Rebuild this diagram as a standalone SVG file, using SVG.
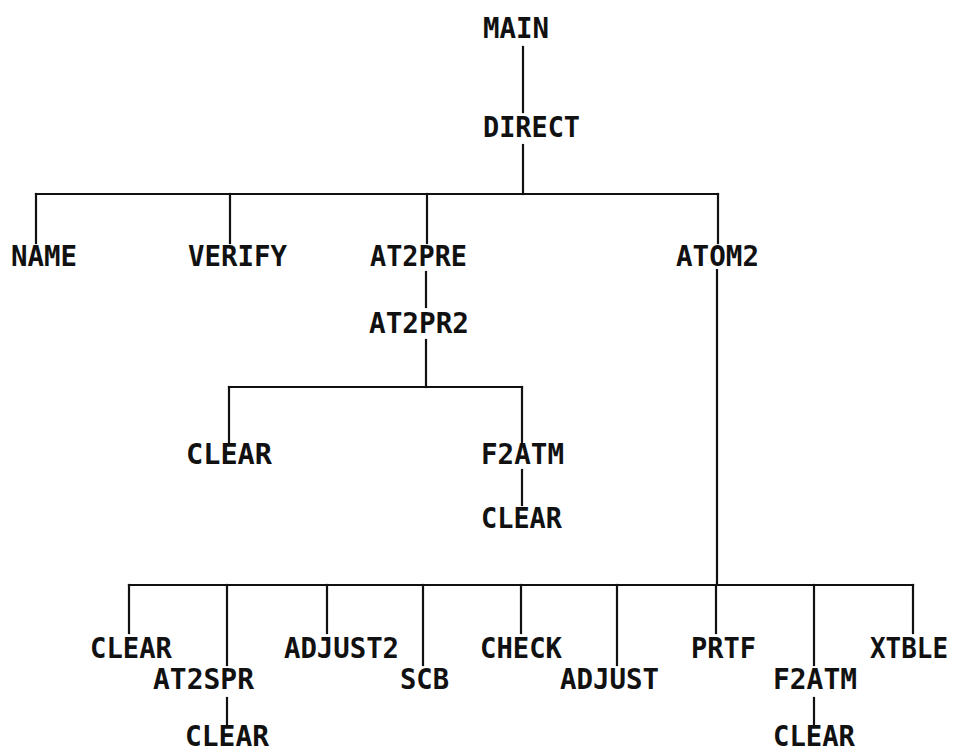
<svg xmlns="http://www.w3.org/2000/svg" width="956" height="754" viewBox="0 0 956 754">
<style>
text{font-family:"DejaVu Sans Mono","Liberation Mono",monospace;font-weight:bold;font-size:29px;fill:#111}
.c line{stroke:#111;stroke-width:2.2;stroke-linecap:square}
</style>
<rect width="956" height="754" fill="#fff"/>
<g class="c" id="connectors">
<line x1="523" y1="47" x2="523" y2="112"/>
<line x1="523" y1="145" x2="523" y2="194"/>
<line x1="36" y1="194" x2="718" y2="194"/>
<line x1="36" y1="194" x2="36" y2="243"/>
<line x1="230" y1="194" x2="230" y2="243"/>
<line x1="427" y1="194" x2="427" y2="243"/>
<line x1="718" y1="194" x2="718" y2="243"/>
<line x1="426" y1="272" x2="426" y2="307"/>
<line x1="426" y1="340" x2="426" y2="387"/>
<line x1="229" y1="387" x2="522" y2="387"/>
<line x1="229" y1="387" x2="229" y2="442"/>
<line x1="522" y1="387" x2="522" y2="442"/>
<line x1="522" y1="470" x2="522" y2="505"/>
<line x1="717" y1="270" x2="717" y2="585"/>
<line x1="129" y1="585" x2="913" y2="585"/>
<line x1="129" y1="585" x2="129" y2="633"/>
<line x1="227" y1="585" x2="227" y2="665"/>
<line x1="327" y1="585" x2="327" y2="633"/>
<line x1="423" y1="585" x2="423" y2="665"/>
<line x1="521" y1="585" x2="521" y2="633"/>
<line x1="617" y1="585" x2="617" y2="665"/>
<line x1="716" y1="585" x2="716" y2="633"/>
<line x1="814" y1="585" x2="814" y2="665"/>
<line x1="913" y1="585" x2="913" y2="633"/>
<line x1="227" y1="698" x2="227" y2="724"/>
<line x1="814" y1="698" x2="814" y2="724"/>
</g>
<g id="main"><text x="483" y="38" textLength="66" lengthAdjust="spacingAndGlyphs">MAIN</text></g>
<g id="direct"><text x="483" y="137" textLength="97" lengthAdjust="spacingAndGlyphs">DIRECT</text></g>
<g id="name"><text x="11" y="266" textLength="66" lengthAdjust="spacingAndGlyphs">NAME</text></g>
<g id="verify"><text x="188" y="266" textLength="99" lengthAdjust="spacingAndGlyphs">VERIFY</text></g>
<g id="at2pre"><text x="370" y="266" textLength="97" lengthAdjust="spacingAndGlyphs">AT2PRE</text></g>
<g id="atom2"><text x="676" y="266" textLength="83" lengthAdjust="spacingAndGlyphs">ATOM2</text></g>
<g id="at2pr2"><text x="369" y="333" textLength="100" lengthAdjust="spacingAndGlyphs">AT2PR2</text></g>
<g id="clear1"><text x="186" y="464" textLength="86" lengthAdjust="spacingAndGlyphs">CLEAR</text></g>
<g id="f2atm1"><text x="481" y="464" textLength="83" lengthAdjust="spacingAndGlyphs">F2ATM</text></g>
<g id="clear2"><text x="481" y="528" textLength="81" lengthAdjust="spacingAndGlyphs">CLEAR</text></g>
<g id="clear3"><text x="90" y="658" textLength="82" lengthAdjust="spacingAndGlyphs">CLEAR</text></g>
<g id="at2spr"><text x="153" y="689" textLength="101" lengthAdjust="spacingAndGlyphs">AT2SPR</text></g>
<g id="clear4"><text x="185" y="746" textLength="84" lengthAdjust="spacingAndGlyphs">CLEAR</text></g>
<g id="adjust2"><text x="284" y="658" textLength="115" lengthAdjust="spacingAndGlyphs">ADJUST2</text></g>
<g id="scb"><text x="400" y="689" textLength="49" lengthAdjust="spacingAndGlyphs">SCB</text></g>
<g id="check"><text x="480" y="658" textLength="82" lengthAdjust="spacingAndGlyphs">CHECK</text></g>
<g id="adjust"><text x="560" y="689" textLength="99" lengthAdjust="spacingAndGlyphs">ADJUST</text></g>
<g id="prtf"><text x="691" y="658" textLength="65" lengthAdjust="spacingAndGlyphs">PRTF</text></g>
<g id="f2atm2"><text x="773" y="689" textLength="84" lengthAdjust="spacingAndGlyphs">F2ATM</text></g>
<g id="clear5"><text x="773" y="746" textLength="82" lengthAdjust="spacingAndGlyphs">CLEAR</text></g>
<g id="xtble"><text x="870" y="658" textLength="78" lengthAdjust="spacingAndGlyphs">XTBLE</text></g>
</svg>
